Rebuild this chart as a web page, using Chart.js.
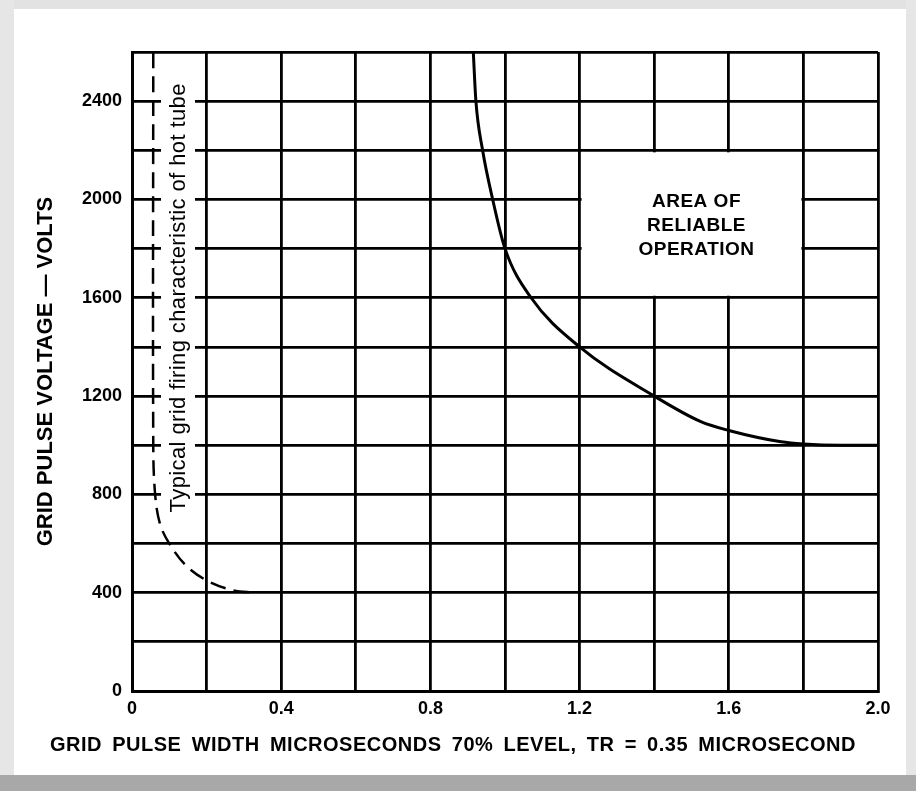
<!DOCTYPE html>
<html>
<head>
<meta charset="utf-8">
<script src="https://cdn.jsdelivr.net/npm/chart.js@4.4.0/dist/chart.umd.min.js"></script>
<style>
html, body { margin: 0; padding: 0; background: #fff; }
#grafico { display: block; }
</style>
</head>
<body>
<canvas id="grafico" width="916" height="791"></canvas>
<script>
// Curva de operación fiable (línea continua)
const anchoFiable = [0.915, 0.922, 0.94, 0.967, 1.0, 1.07, 1.2, 1.4, 1.525, 1.6, 1.74, 1.8, 1.9, 2.0];
const voltajeFiable = [2600, 2400, 2200, 2000, 1800, 1600, 1400, 1200, 1096, 1060, 1014, 1005, 1000, 1000];

// Característica típica de disparo, tubo caliente (línea de trazos)
const anchoTubo = [0.057, 0.057, 0.062, 0.075, 0.1, 0.145, 0.2, 0.27, 0.33];
const voltajeTubo = [2600, 1000, 800, 680, 600, 510, 450, 410, 400];

// Etiquetas de los ejes
const etiquetasX = ['0', '0.4', '0.8', '1.2', '1.6', '2.0'];
const etiquetasY = ['0', '400', '800', '1200', '1600', '2000', '2400'];

const tituloX = 'GRID PULSE WIDTH MICROSECONDS 70% LEVEL, TR = 0.35 MICROSECOND';
const tituloY = 'GRID PULSE VOLTAGE \u2014 VOLTS';
const textoArea = ['AREA OF', 'RELIABLE', 'OPERATION'];
const textoTubo = 'Typical grid firing characteristic of hot tube';

const FUENTE = '"Liberation Sans", Arial, sans-serif';

// --- Plugin para fondo, recuadros y textos ---
const anotaciones = {
    id: 'anotaciones',
    beforeDraw(chart) {
        const ctx = chart.ctx;
        ctx.save();
        ctx.fillStyle = '#fff';
        ctx.fillRect(0, 0, chart.width, chart.height);
        // bordes grises del escaneo
        ctx.fillStyle = '#e2e2e2';
        ctx.fillRect(0, 0, chart.width, 9);
        ctx.fillStyle = '#e6e6e6';
        ctx.fillRect(0, 0, 14, chart.height);
        ctx.fillRect(chart.width - 10, 0, 10, chart.height);
        ctx.fillStyle = '#a8a8a8';
        ctx.fillRect(0, 775, chart.width, chart.height - 775);
        ctx.restore();
    },
    beforeDatasetsDraw(chart) {
        const ctx = chart.ctx;
        const xs = chart.scales.x, ys = chart.scales.y;
        const x1 = xs.getPixelForValue(1.2), x2 = xs.getPixelForValue(1.8);
        const y1 = ys.getPixelForValue(2200), y2 = ys.getPixelForValue(1600);
        ctx.save();
        ctx.fillStyle = '#fff';
        ctx.fillRect(x1 + 2, y1 + 2, x2 - x1 - 4, y2 - y1 - 4);
        ctx.fillStyle = '#000';
        ctx.font = 'bold 19px ' + FUENTE;
        ctx.letterSpacing = '0.5px';
        ctx.textAlign = 'center';
        ctx.textBaseline = 'middle';
        const cx = (x1 + x2) / 2 + 5;
        const cy = (y1 + y2) / 2 + 2;
        textoArea.forEach((t, i) => ctx.fillText(t, cx, cy + (i - 1) * 24));

        // texto girado junto a la curva de trazos, sobre franja blanca
        ctx.font = '22px ' + FUENTE;
        ctx.letterSpacing = '0.4px';
        ctx.translate(xs.getPixelForValue(0.126), ys.getPixelForValue(1600));
        ctx.rotate(-Math.PI / 2);
        const w = ctx.measureText(textoTubo).width;
        ctx.fillStyle = '#fff';
        ctx.fillRect(-w / 2 - 5, -18, w + 10, 34);
        ctx.fillStyle = '#000';
        ctx.fillText(textoTubo, 0, 0);
        ctx.restore();
    },
    afterDraw(chart) {
        // título del eje X, justificado entre 50 y 856 px
        const ctx = chart.ctx;
        ctx.save();
        ctx.fillStyle = '#000';
        ctx.font = 'bold 20px ' + FUENTE;
        ctx.letterSpacing = '0.5px';
        ctx.textBaseline = 'middle';
        ctx.textAlign = 'left';
        const palabras = tituloX.split(' ');
        const anchos = palabras.map(p => ctx.measureText(p).width);
        const total = anchos.reduce((a, b) => a + b, 0);
        const inicio = 50, fin = 856;
        const hueco = (fin - inicio - total) / (palabras.length - 1);
        let x = inicio;
        palabras.forEach((p, i) => {
            ctx.fillText(p, x, 745);
            x += anchos[i] + hueco;
        });
        ctx.restore();
    }
};

const ctx = document.getElementById('grafico').getContext('2d');

const grafico = new Chart(ctx, {
    type: 'line',
    data: {
        datasets: [{
            label: 'Área de operación fiable',
            data: anchoFiable.map((x, i) => ({ x: x, y: voltajeFiable[i] })),
            borderColor: '#000',
            borderWidth: 3,
            pointRadius: 0,
            fill: false,
            cubicInterpolationMode: 'monotone'
        }, {
            label: textoTubo,
            data: anchoTubo.map((x, i) => ({ x: x, y: voltajeTubo[i] })),
            borderColor: '#000',
            borderWidth: 2.5,
            borderDash: [16, 8],
            pointRadius: 0,
            fill: false,
            tension: 0.35
        }]
    },
    options: {
        responsive: false,
        animation: false,
        devicePixelRatio: 1,
        layout: { padding: { left: 0, top: 52, right: 38, bottom: 0 } },
        plugins: {
            legend: { display: false },
            tooltip: { enabled: false }
        },
        scales: {
            x: {
                type: 'linear',
                min: 0,
                max: 2,
                afterFit: s => { s.height = 100; },
                grid: { color: '#000', lineWidth: 2.8, drawTicks: false },
                border: { color: '#000', width: 3 },
                ticks: {
                    stepSize: 0.2,
                    padding: 7,
                    color: '#000',
                    font: { family: FUENTE, size: 18, weight: 'bold' },
                    maxRotation: 0,
                    autoSkip: false,
                    callback: (v, i) => (i % 2 === 0 ? etiquetasX[i / 2] : '')
                }
            },
            y: {
                min: 0,
                max: 2600,
                afterFit: s => { s.width = 132; },
                grid: { color: '#000', lineWidth: 2.8, drawTicks: false },
                border: { color: '#000', width: 3 },
                ticks: {
                    stepSize: 200,
                    padding: 10,
                    color: '#000',
                    font: { family: FUENTE, size: 18, weight: 'bold' },
                    autoSkip: false,
                    callback: (v, i) => (i % 2 === 0 && etiquetasY[i / 2] ? etiquetasY[i / 2] : '')
                },
                title: {
                    display: true,
                    text: tituloY,
                    color: '#000',
                    font: { family: FUENTE, size: 22, weight: 'bold' },
                    padding: { top: 33, bottom: 0 }
                }
            }
        }
    },
    plugins: [anotaciones]
});
</script>
</body>
</html>
